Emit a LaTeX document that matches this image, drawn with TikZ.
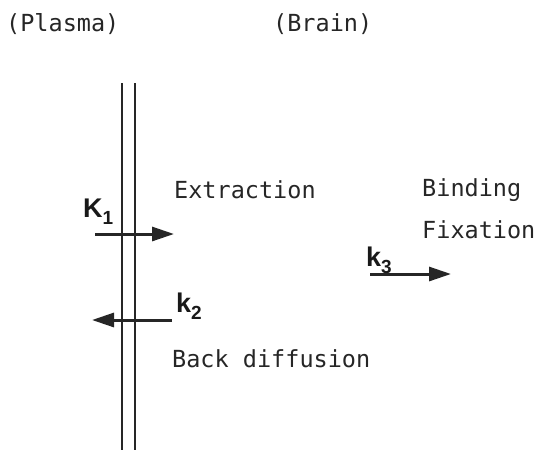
\documentclass[tikz,border=0pt]{standalone}
\usepackage{fontspec}
\newfontfamily\monofont{DejaVu Sans Mono}
\newfontfamily\labfont{Liberation Sans}
\usetikzlibrary{arrows.meta}
\tikzset{
  txt/.style={anchor=base west,inner sep=0pt,font=\monofont\fontsize{23.5}{27}\selectfont,text=black!85},
  lab/.style={anchor=base west,inner sep=0pt,font=\labfont\bfseries\fontsize{27}{30}\selectfont,text=black!90},
  wall/.style={line width=1.8pt,black!85},
  flow/.style={line width=3pt,black!85,-{Triangle[length=22pt,width=14pt]}}
}
\newcommand{\subsc}[1]{\raisebox{-7pt}{\fontsize{19}{21}\selectfont #1}}
\begin{document}
\begin{tikzpicture}[x=1pt,y=-1pt]
\useasboundingbox (0,0) rectangle (537,450);
% membrane
\coordinate (w1t) at (122,83); \coordinate (w1b) at (122,450);
\coordinate (w2t) at (135,83); \coordinate (w2b) at (135,450);
\draw[wall] (w1t) -- (w1b);
\draw[wall] (w2t) -- (w2b);
% headings
\node[txt] (plasma) at (6,31) {(Plasma)};
\node[txt] (brain) at (273,31) {(Brain)};
% texts
\node[txt] (extr) at (174,198) {Extraction};
\node[txt] (back) at (172,367) {Back diffusion};
\node[txt] (bind) at (422,196) {Binding};
\node[txt] (fix) at (422,238) {Fixation};
% labels
\node[lab] (K1) at (83,217) {K\subsc{1}};
\node[lab] (k2) at (176,312) {k\subsc{2}};
\node[lab] (k3) at (366,266) {k\subsc{3}};
% arrows
\coordinate (a1s) at (95,234); \coordinate (a1e) at (174,234);
\coordinate (a2s) at (172,320); \coordinate (a2e) at (92,320);
\coordinate (a3s) at (370,274); \coordinate (a3e) at (451,274);
\draw[flow] (a1s) -- (a1e);
\draw[flow] (a2s) -- (a2e);
\draw[flow] (a3s) -- (a3e);
\end{tikzpicture}
\end{document}
